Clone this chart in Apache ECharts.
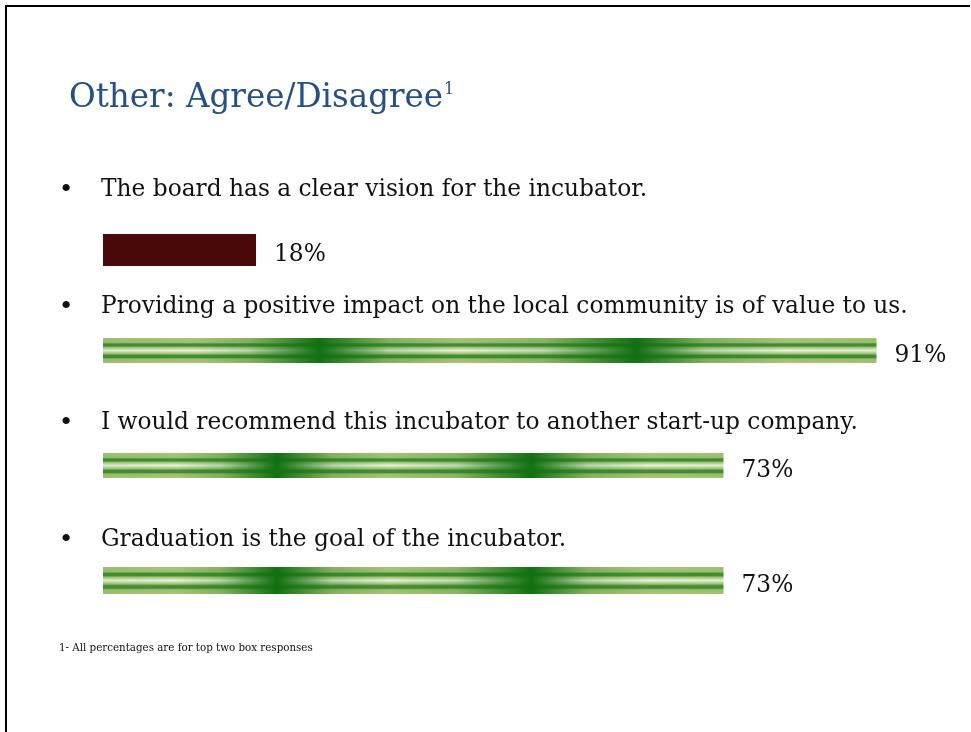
<!DOCTYPE html>
<html>
<head>
<meta charset="utf-8">
<script src="https://cdn.jsdelivr.net/npm/echarts@6/dist/echarts.min.js"></script>
<style>
  html, body { margin: 0; padding: 0; background: #ffffff; }
  #chart { width: 971px; height: 732px; }
</style>
</head>
<body>
<div id="chart"></div>
<script>
// ---- Data ----
const titleText = 'Other: Agree/Disagree';
const titleNote = '1';
const statements = [
  'The board has a clear vision for the incubator.',
  'Providing a positive impact on the local community is of value to us.',
  'I would recommend this incubator to another start-up company.',
  'Graduation is the goal of the incubator.'
];
const percentages = [18, 91, 73, 73];
const footnote = '1- All percentages are for top two box responses';

// ---- Layout & style ----
const SERIF = '"DejaVu Serif", "Liberation Serif", serif';
const TEXT_SIZE = 23.3;
const rowLayout = [
  { textY: 190, barTop: 234, barHeight: 32 },
  { textY: 307, barTop: 338, barHeight: 25 },
  { textY: 423, barTop: 453, barHeight: 25 },
  { textY: 540, barTop: 567, barHeight: 27 }
];
const BAR_LEFT = 103;
const BAR_RIGHT = 18;   // full 100% spans the remaining width

// striped green fill: light core, two darker pin-stripes
const stripeFill = new echarts.graphic.LinearGradient(0, 0, 0, 1, [
  { offset: 0.00, color: '#a9c47c' },
  { offset: 0.18, color: '#9cbf6e' },
  { offset: 0.24, color: '#428d31' },
  { offset: 0.32, color: '#428d31' },
  { offset: 0.38, color: '#a6c67c' },
  { offset: 0.50, color: '#e8f2dc' },
  { offset: 0.62, color: '#a6c67c' },
  { offset: 0.70, color: '#428d31' },
  { offset: 0.78, color: '#428d31' },
  { offset: 0.84, color: '#9cbf6e' },
  { offset: 1.00, color: '#a9c47c' }
]);
// darker green bands running across the bar
const bandFill = new echarts.graphic.LinearGradient(0, 0, 1, 0, [
  { offset: 0.00, color: 'rgba(20,112,20,0.06)' },
  { offset: 0.12, color: 'rgba(20,112,20,0.00)' },
  { offset: 0.19, color: 'rgba(20,112,20,0.22)' },
  { offset: 0.28, color: 'rgba(18,112,18,1.00)' },
  { offset: 0.37, color: 'rgba(20,112,20,0.22)' },
  { offset: 0.46, color: 'rgba(20,112,20,0.00)' },
  { offset: 0.57, color: 'rgba(20,112,20,0.18)' },
  { offset: 0.69, color: 'rgba(18,112,18,1.00)' },
  { offset: 0.78, color: 'rgba(20,112,20,0.22)' },
  { offset: 0.88, color: 'rgba(20,112,20,0.00)' },
  { offset: 1.00, color: 'rgba(20,112,20,0.04)' }
]);
const rowFill = [ '#4a0909', stripeFill, stripeFill, stripeFill ];

const grids = [], xAxes = [], yAxes = [], series = [];
percentages.forEach((pct, i) => {
  const r = rowLayout[i];
  grids.push({ left: BAR_LEFT, right: BAR_RIGHT, top: r.barTop, height: r.barHeight });
  xAxes.push({ gridIndex: i, type: 'value', min: 0, max: 100, show: false });
  yAxes.push({ gridIndex: i, type: 'category', data: [statements[i]], show: false });
  series.push({
    type: 'bar', xAxisIndex: i, yAxisIndex: i,
    data: [pct], barWidth: '100%', barGap: '-100%',
    itemStyle: { color: rowFill[i] },
    label: {
      show: true, position: 'right', distance: 18,
      formatter: '{c}%', fontFamily: SERIF, fontSize: TEXT_SIZE,
      color: '#111111', offset: [0, 5]
    },
    silent: true, animation: false
  });
  if (i > 0) {
    series.push({
      type: 'bar', xAxisIndex: i, yAxisIndex: i,
      data: [pct], barWidth: '100%', barGap: '-100%',
      itemStyle: { color: bandFill }, z: 3,
      silent: true, animation: false
    });
  }
});

const graphics = [
  // slide frame: top and left edges
  { type: 'line', shape: { x1: 5, y1: 6, x2: 970, y2: 6 }, style: { stroke: '#000', lineWidth: 2 } },
  { type: 'line', shape: { x1: 6, y1: 5, x2: 6, y2: 732 }, style: { stroke: '#000', lineWidth: 2 } },
  {
    type: 'text', x: 59, y: 648,
    style: { text: footnote, font: '10.3px ' + SERIF, fill: '#111', verticalAlign: 'middle' }
  }
];
statements.forEach((s, i) => {
  const y = rowLayout[i].textY;
  graphics.push({
    type: 'text', x: 66, y: y,
    style: { text: '\u2022', font: '25px ' + SERIF, fill: '#111', align: 'center', verticalAlign: 'middle' }
  });
  graphics.push({
    type: 'text', x: 101, y: y,
    style: { text: s, font: TEXT_SIZE + 'px ' + SERIF, fill: '#111', verticalAlign: 'middle' }
  });
});

const chart = echarts.init(document.getElementById('chart'), null, { renderer: 'canvas' });
chart.setOption({
  backgroundColor: '#ffffff',
  animation: false,
  title: {
    text: '{t|' + titleText + '}{s|' + titleNote + '}',
    left: 69, top: 82, padding: 0,
    textStyle: {
      fontWeight: 'normal',
      rich: {
        t: { fontFamily: SERIF, fontSize: 32.6, fontWeight: 'normal', color: '#24508a' },
        s: { fontFamily: SERIF, fontSize: 16, fontWeight: 'normal', color: '#24508a', verticalAlign: 'top', padding: [0, 0, 12, 1] }
      }
    }
  },
  grid: grids,
  xAxis: xAxes,
  yAxis: yAxes,
  series: series,
  graphic: graphics
});
</script>
</body>
</html>
